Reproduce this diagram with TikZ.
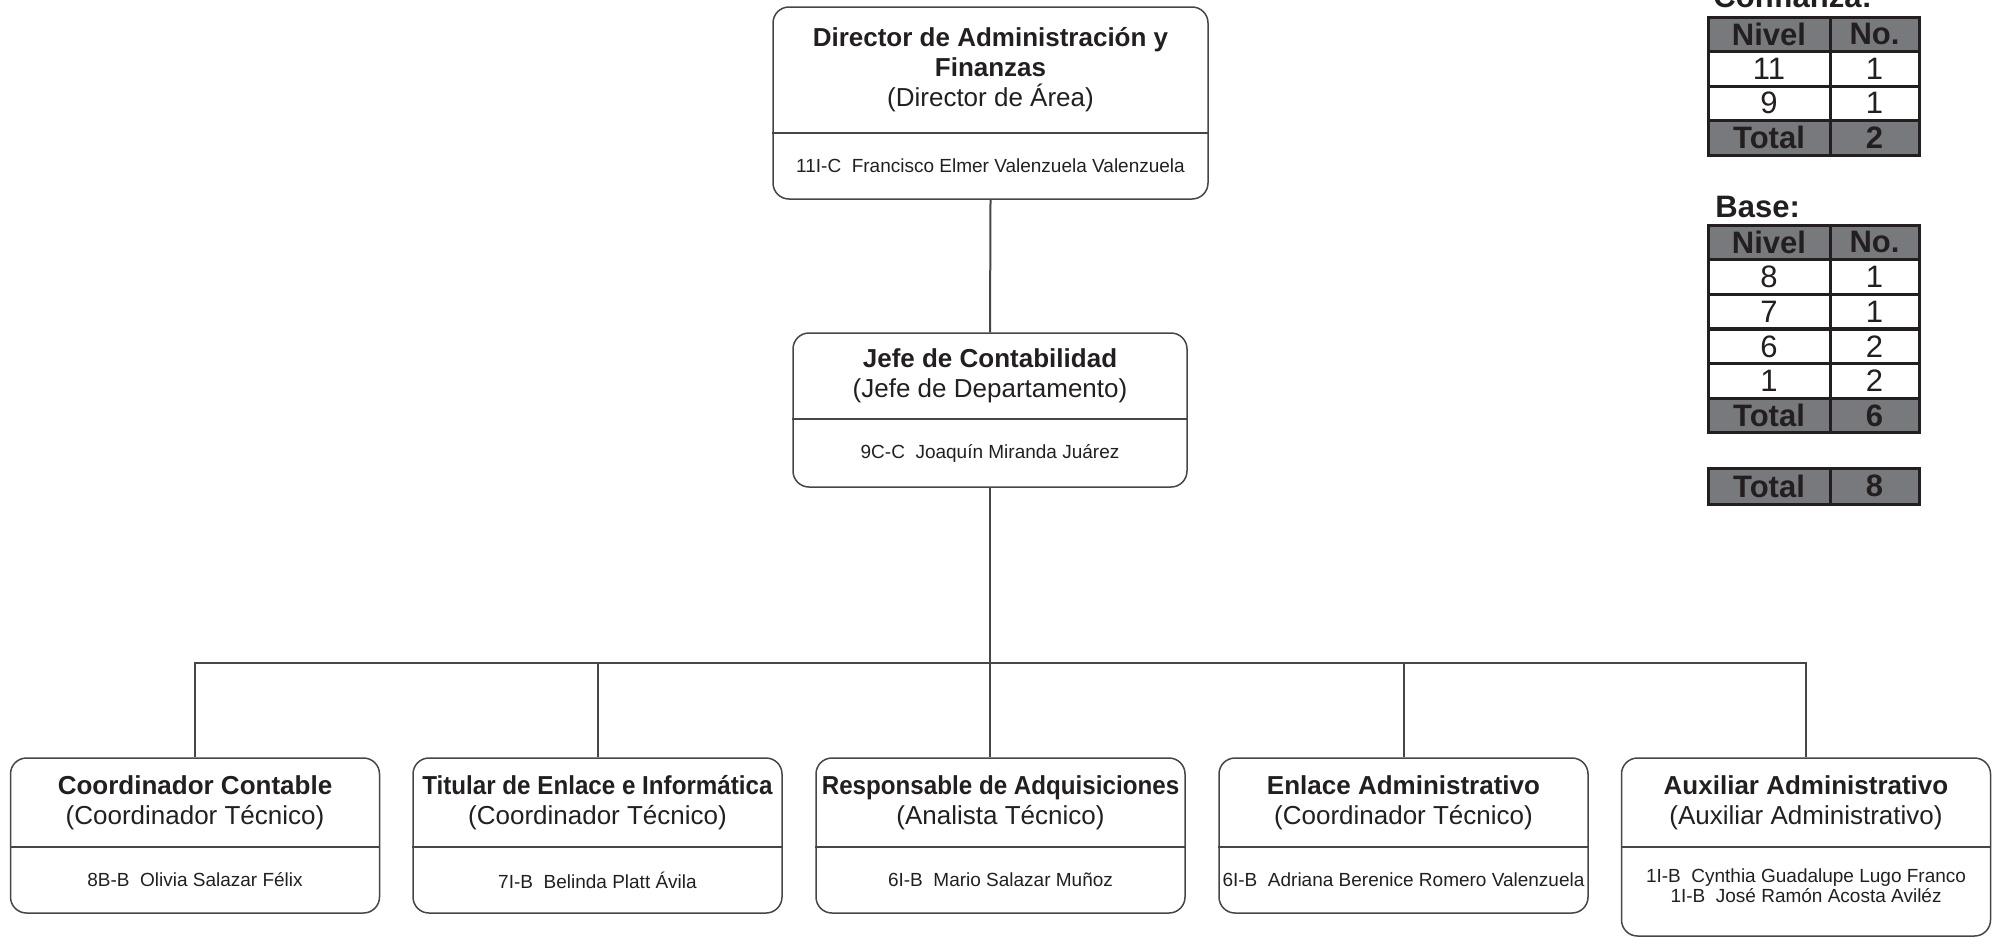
\documentclass[tikz,border=0pt]{standalone}
\usepackage{fontspec}
\setmainfont{Liberation Sans}
\definecolor{tinta}{RGB}{35,31,32}
\definecolor{linea}{RGB}{70,70,70}
\definecolor{gris}{RGB}{120,121,125}

\begin{document}
\begin{tikzpicture}[x=0.5pt,y=-0.5pt,
    puesto/.style={draw=linea, line width=0.75pt, rounded corners=8pt, inner sep=0pt, minimum width=184.5pt, minimum height=77.5pt},
    titulo/.style={text=tinta, align=center, inner sep=0pt, font=\fontsize{13}{15}\selectfont},
    nombre/.style={text=tinta, align=center, inner sep=0pt, font=\fontsize{9.5}{10}\selectfont},
    conector/.style={draw=linea, line width=1pt},
    celda/.style={draw=tinta, line width=1.5pt, fill=white, anchor=north west, outer sep=0pt, inner sep=0pt, text=tinta, font=\fontsize{15.5}{16}\selectfont},
    cabeza/.style={celda, fill=gris, font=\fontsize{15.5}{16}\selectfont\bfseries},
    rotulo/.style={anchor=base west, inner sep=0pt, text=tinta, font=\fontsize{15.5}{16}\selectfont\bfseries}]

\useasboundingbox (0,0) rectangle (1995,937);

%Shape: Director
\node[puesto, minimum width=217.5pt, minimum height=96pt] (dir) at (990.5,103) {};
\draw[linea, line width=0.75pt] (dir.west |- 0,133) -- (dir.east |- 0,133);
\node[titulo] (dir-t) at (990.5,70) {\textbf{Director de Administración y}\\\textbf{Finanzas}\\(Director de Área)};
\node[nombre] (dir-n) at (990.5,166) {11I-C\ \ Francisco Elmer Valenzuela Valenzuela};

%Shape: Jefe
\node[puesto, minimum width=197pt, minimum height=77pt] (jefe) at (990,410) {};
\draw[linea, line width=0.75pt] (jefe.west |- 0,419) -- (jefe.east |- 0,419);
\node[titulo] (jefe-t) at (990,376) {\textbf{Jefe de Contabilidad}\\(Jefe de Departamento)};
\node[nombre] (jefe-n) at (990,453) {9C-C\ \ Joaquín Miranda Juárez};

%Shape: bottom row
\node[puesto] (c1) at (195,835.5) {};
\node[puesto] (c2) at (597.5,835.5) {};
\node[puesto] (c3) at (1000.5,835.5) {};
\node[puesto] (c4) at (1403.5,835.5) {};
\node[puesto, minimum height=89pt] (c5) at (1806,847) {};
\foreach \c in {c1,c2,c3,c4,c5}
  \draw[linea, line width=0.75pt] (\c.west |- 0,847) -- (\c.east |- 0,847);

% Text Node
\node[titulo] (c1-t) at (195,802.5) {\textbf{Coordinador Contable}\\(Coordinador Técnico)};
\node[nombre] (c1-n) at (195,880) {8B-B\ \ Olivia Salazar Félix};
\node[titulo] (c2-t) at (597.5,802.5) {\scalebox{0.93}[1]{\textbf{Titular de Enlace e Informática}}\\(Coordinador Técnico)};
\node[nombre] (c2-n) at (597.5,880) {7I-B\ \ Belinda Platt Ávila};
\node[titulo] (c3-t) at (1000.5,802.5) {\scalebox{0.93}[1]{\textbf{Responsable de Adquisiciones}}\\(Analista Técnico)};
\node[nombre] (c3-n) at (1000.5,880) {6I-B\ \ Mario Salazar Muñoz};
\node[titulo] (c4-t) at (1403.5,802.5) {\textbf{Enlace Administrativo}\\(Coordinador Técnico)};
\node[nombre] (c4-n) at (1403.5,880) {6I-B\ \ Adriana Berenice Romero Valenzuela};
\node[titulo] (c5-t) at (1806,802.5) {\textbf{Auxiliar Administrativo}\\(Auxiliar Administrativo)};
\node[nombre] (c5-n) at (1806,886) {1I-B\ \ Cynthia Guadalupe Lugo Franco\\1I-B\ \ José Ramón Acosta Aviléz};

%Straight Lines
\coordinate (bus) at (990,663);
\draw[conector] (dir.south) -- (jefe.north);
\draw[conector] (jefe.south) -- (jefe.south |- c3.north);
\draw[conector] (c1.north) |- (c5.north |- bus) -- (c5.north);
\foreach \c in {c2,c4}
  \draw[conector] (\c.north) -- (\c.north |- bus);

% Confianza
\node[rotulo] (confianza) at (1713,8) {Confianza:};
\foreach \fila/\a/\b/\tipo [count=\i] in {17/Nivel/No./cabeza, 51.5/11/1/celda, 86/9/1/celda, 120.5/Total/2/cabeza}{
  \node[\tipo, minimum width=61pt, minimum height=17.25pt] (conf-\i-a) at (1708,\fila) {\a};
  \node[\tipo, minimum width=44.5pt, minimum height=17.25pt] (conf-\i-b) at (1830,\fila) {\b};
}

% Base
\node[rotulo] (base) at (1715,217) {Base:};
\foreach \fila/\a/\b/\tipo [count=\i] in {225/Nivel/No./cabeza, 259.67/8/1/celda, 294.33/7/1/celda, 329/6/2/celda, 363.67/1/2/celda, 398.33/Total/6/cabeza}{
  \node[\tipo, minimum width=61pt, minimum height=17.33pt] (base-\i-a) at (1708,\fila) {\a};
  \node[\tipo, minimum width=44.5pt, minimum height=17.33pt] (base-\i-b) at (1830,\fila) {\b};
}

% Total
\node[cabeza, minimum width=61pt, minimum height=18pt] (total-a) at (1708,468) {Total};
\node[cabeza, minimum width=44.5pt, minimum height=18pt] (total-b) at (1830,468) {8};

\end{tikzpicture}
\end{document}
